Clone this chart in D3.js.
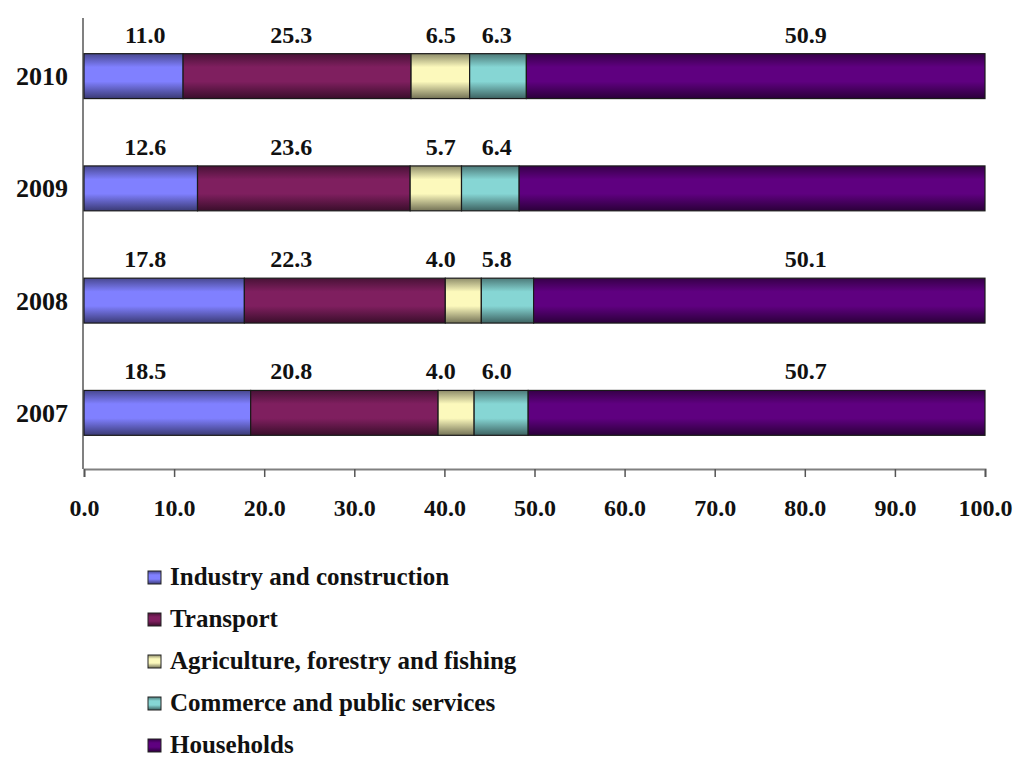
<!DOCTYPE html>
<html>
<head>
<meta charset="utf-8">
<script src="https://cdn.jsdelivr.net/npm/d3@7"></script>
<style>
  html, body { margin: 0; padding: 0; background: #ffffff; }
  svg { display: block; }
  text { font-family: "Liberation Serif", "Times New Roman", serif; font-weight: bold; fill: #111; }
</style>
</head>
<body>
<svg id="chart" width="1021" height="764"></svg>
<script>
// ---- data ----
const years = ["2010", "2009", "2008", "2007"];
const seriesNames = [
  "Industry and construction",
  "Transport",
  "Agriculture, forestry and fishing",
  "Commerce and public services",
  "Households"
];
const industry    = [11.0, 12.6, 17.8, 18.5];
const transport   = [25.3, 23.6, 22.3, 20.8];
const agriculture = [6.5, 5.7, 4.0, 4.0];
const commerce    = [6.3, 6.4, 5.8, 6.0];
const households  = [50.9, 51.7, 50.1, 50.7];
// which value labels are shown (2009 households has no label in the original)
const householdsLabelShown = [true, false, true, true];
const xTicks = [0, 10, 20, 30, 40, 50, 60, 70, 80, 90, 100];

// ---- style ----
const colors = ["#8080ff", "#7f1f5f", "#fcf9bc", "#86d6d4", "#5f0080"];
// label anchor (in axis units) for each series' value labels, as in the original
const labelAnchor = [6.8, 23.0, 39.6, 45.8, 80.1];

const svg = d3.select("#chart");
const x = d3.scaleLinear().domain([0, 100]).range([84, 985]);
const y = d3.scaleBand().domain(years).range([20, 469]).padding(0);
const barH = y.bandwidth() * 0.4;

// gradients
const defs = svg.append("defs");
colors.forEach((c, i) => {
  const g = defs.append("linearGradient").attr("id", "grad" + i)
    .attr("x1", 0).attr("y1", 0).attr("x2", 0).attr("y2", 1);
  const base = d3.color(c);
  g.append("stop").attr("offset", "0%").attr("stop-color", base.darker(1.6));
  g.append("stop").attr("offset", "30%").attr("stop-color", base);
  g.append("stop").attr("offset", "62%").attr("stop-color", base);
  g.append("stop").attr("offset", "100%").attr("stop-color", base.darker(2.2));
});

const allSeries = [industry, transport, agriculture, commerce, households];
const stacked = years.map((yr, j) => {
  let acc = 0;
  return allSeries.map((s, i) => {
    const seg = { year: yr, i, j, v: s[j], x0: acc, x1: acc + s[j] };
    acc += s[j];
    return seg;
  });
}).flat();

// axes lines
svg.append("line").attr("x1", x(0) - 1).attr("x2", x(0) - 1)
  .attr("y1", 18).attr("y2", 469).attr("stroke", "#808080").attr("stroke-width", 2);

const xAxis = d3.axisBottom(x).tickValues(xTicks).tickSize(8).tickFormat(d3.format(".1f"));
const gx = svg.append("g").attr("transform", "translate(0,469)").call(xAxis);
gx.select(".domain").attr("stroke", "#808080").attr("stroke-width", 2);
gx.selectAll(".tick line").attr("stroke", "#555").attr("stroke-width", 1.5);
gx.selectAll(".tick text")
  .attr("y", 47).attr("dy", 0)
  .style("font-family", '"Liberation Serif", "Times New Roman", serif')
  .style("font-weight", "bold").style("font-size", "24px").attr("fill", "#111");

// bars
svg.append("g").selectAll("rect").data(stacked).join("rect")
  .attr("x", d => x(d.x0))
  .attr("width", d => x(d.x1) - x(d.x0))
  .attr("y", d => y(d.year) + (y.bandwidth() - barH) / 2)
  .attr("height", barH)
  .attr("fill", d => `url(#grad${d.i})`)
  .attr("stroke", "#1a1a1a").attr("stroke-width", 1.2);

// value labels
svg.append("g").selectAll("text").data(stacked.filter(d => d.i !== 4 || householdsLabelShown[d.j]))
  .join("text")
  .attr("x", d => x(labelAnchor[d.i]))
  .attr("y", d => y(d.year) + (y.bandwidth() - barH) / 2 - 11)
  .attr("text-anchor", "middle")
  .style("font-size", "24px")
  .text(d => d.v.toFixed(1));

// year labels
svg.append("g").selectAll("text").data(years).join("text")
  .attr("x", 68)
  .attr("y", d => y(d) + y.bandwidth() / 2 + 9)
  .attr("text-anchor", "end")
  .style("font-size", "26px")
  .text(d => d);

// legend
const leg = svg.append("g").selectAll("g").data(seriesNames).join("g")
  .attr("transform", (d, i) => `translate(148,${585 + i * 42})`);
leg.append("rect").attr("x", 0).attr("y", -14).attr("width", 13).attr("height", 13)
  .attr("fill", (d, i) => `url(#grad${i})`).attr("stroke", "#222").attr("stroke-width", 1);
leg.append("text").attr("x", 22).attr("y", 0)
  .style("font-size", "25px")
  .text(d => d);
</script>
</body>
</html>
